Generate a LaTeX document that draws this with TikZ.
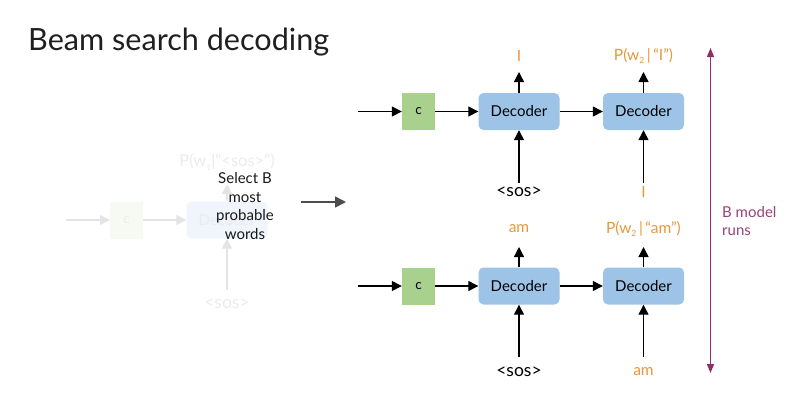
\documentclass[tikz,border=0pt]{standalone}
\usepackage{fontspec}
\setmainfont{Lato}
\usetikzlibrary{arrows.meta}
\definecolor{cgreen}{HTML}{A9D18E}
\definecolor{dblue}{HTML}{9DC3E6}
\definecolor{lorange}{HTML}{E8973A}
\definecolor{bpurple}{HTML}{8E2D6A}
\definecolor{fadeln}{HTML}{E4E4E4}
\definecolor{fadetx}{HTML}{EBEBEB}
\definecolor{fadegreen}{HTML}{F7F9F3}
\definecolor{fadeblue}{HTML}{F0F4FB}
\newcommand{\sbx}[1]{\raisebox{-0.45ex}{\fontsize{8.5}{8.5}\selectfont #1}}
\begin{document}
\begin{tikzpicture}[x=1pt,y=1pt,
  cbox/.style={fill=cgreen, minimum width=33pt, minimum height=37pt, inner sep=0pt, font=\fontsize{13.5}{13.5}\selectfont},
  decbox/.style={fill=dblue, rounded corners=5pt, minimum width=81pt, minimum height=37pt, inner sep=0pt, font=\fontsize{15}{15}\selectfont},
  fcbox/.style={fill=fadegreen, minimum width=33pt, minimum height=37pt, inner sep=0pt, text=fadetx, font=\fontsize{13.5}{13.5}\selectfont},
  fdecbox/.style={fill=fadeblue, rounded corners=5pt, minimum width=81pt, minimum height=37pt, inner sep=0pt, text=fadetx, font=\fontsize{15}{15}\selectfont},
  lbl/.style={inner sep=0pt, font=\fontsize{15.5}{15.5}\selectfont},
  soslbl/.style={inner sep=0pt, font=\fontsize{17.5}{17.5}\selectfont},
  olbl/.style={lbl, text=lorange},
  arr/.style={-{Triangle[length=10pt,width=10pt]}, line width=1.3pt},
  farr/.style={arr, draw=fadeln, fill=fadeln}
]
\useasboundingbox (0,0) rectangle (808,-400);

% title
\node[anchor=base west, inner sep=0pt, font=\fontsize{30.6}{30.6}\selectfont, text=black!88] (title) at (28,-50) {Beam search decoding};

% faded left part
\coordinate (fin) at (66,-220);
\node[fcbox] (fc) at (126.5,-220) {c};
\node[fdecbox] (fdec) at (227,-220) {Decoder};
\node[soslbl, text=fadetx] (fsos) at (227,-304) {<sos>};
\node[lbl, text=fadetx, font=\fontsize{16.5}{16.5}\selectfont] (fout) at (227,-162) {P(w\sbx{1}|“<sos>”)};
\coordinate (fsb) at (227,-290);
\coordinate (fot) at (227,-184);
\draw[farr] (fin) -- (fc.west);
\draw[farr] (fc.east) -- (fdec.west);
\draw[farr] (fsb) -- (fdec.south);
\draw[farr] (fdec.north) -- (fot);

% select text
\node[align=center, inner sep=0pt, font=\fontsize{15}{18.5}\selectfont, text=black!90] (sel) at (245,-206) {Select B\\most\\probable\\words};

% big arrow
\coordinate (ba) at (301,-202);
\coordinate (bb) at (346,-202);
\draw[-{Triangle[length=11pt,width=11pt]}, line width=1.6pt, draw=black!70, fill=black!70] (ba) -- (bb);

% top row
\node[cbox] (c1) at (418.5,-111.5) {c};
\coordinate (tin) at (358,-111.5);
\node[decbox] (d1) at (519,-111.5) {Decoder};
\node[decbox] (d2) at (643.5,-111.5) {Decoder};
\node[olbl] (o1) at (519,-56) {I};
\node[olbl] (o2) at (643.5,-56) {P(w\sbx{2}\,|\,“I”)};
\node[soslbl] (s1) at (519,-192) {<sos>};
\node[olbl] (i2) at (643.5,-192) {I};
\coordinate (s1t) at (519,-183);
\coordinate (i2t) at (643.5,-183);
\coordinate (o1b) at (519,-72);
\coordinate (o2b) at (643.5,-72);
\draw[arr] (tin) -- (c1.west);
\draw[arr] (c1.east) -- (d1.west);
\draw[arr] (d1.east) -- (d2.west);
\draw[arr] (d1.north) -- (o1b);
\draw[arr] (d2.north) -- (o2b);
\draw[arr] (s1t) -- (d1.south);
\draw[arr] (i2t) -- (d2.south);

% bottom row
\node[cbox] (c3) at (418.5,-286) {c};
\coordinate (bin) at (358,-286);
\node[decbox] (d3) at (519,-286) {Decoder};
\node[decbox] (d4) at (643.5,-286) {Decoder};
\node[olbl] (o3) at (519,-229) {am};
\node[olbl] (o4) at (643.5,-229) {P(w\sbx{2}\,|\,“am”)};
\node[soslbl] (s3) at (519,-372) {<sos>};
\node[olbl] (i4) at (643.5,-372) {am};
\coordinate (s3t) at (519,-357);
\coordinate (i4t) at (643.5,-357);
\coordinate (o3b) at (519,-247);
\coordinate (o4b) at (643.5,-247);
\draw[arr] (bin) -- (c3.west);
\draw[arr] (c3.east) -- (d3.west);
\draw[arr] (d3.east) -- (d4.west);
\draw[arr] (d3.north) -- (o3b);
\draw[arr] (d4.north) -- (o4b);
\draw[arr] (s3t) -- (d3.south);
\draw[arr] (i4t) -- (d4.south);

% purple range arrow
\coordinate (pt) at (710.5,-48);
\coordinate (pb) at (710.5,-373);
\draw[{Triangle[length=9pt,width=7pt]}-{Triangle[length=9pt,width=7pt]}, line width=1.4pt, draw=bpurple, fill=bpurple] (pt) -- (pb);
\node[anchor=west, align=left, inner sep=0pt, text=bpurple!90, font=\fontsize{15}{18}\selectfont] (bm) at (722,-221) {B model\\runs};
\end{tikzpicture}
\end{document}
